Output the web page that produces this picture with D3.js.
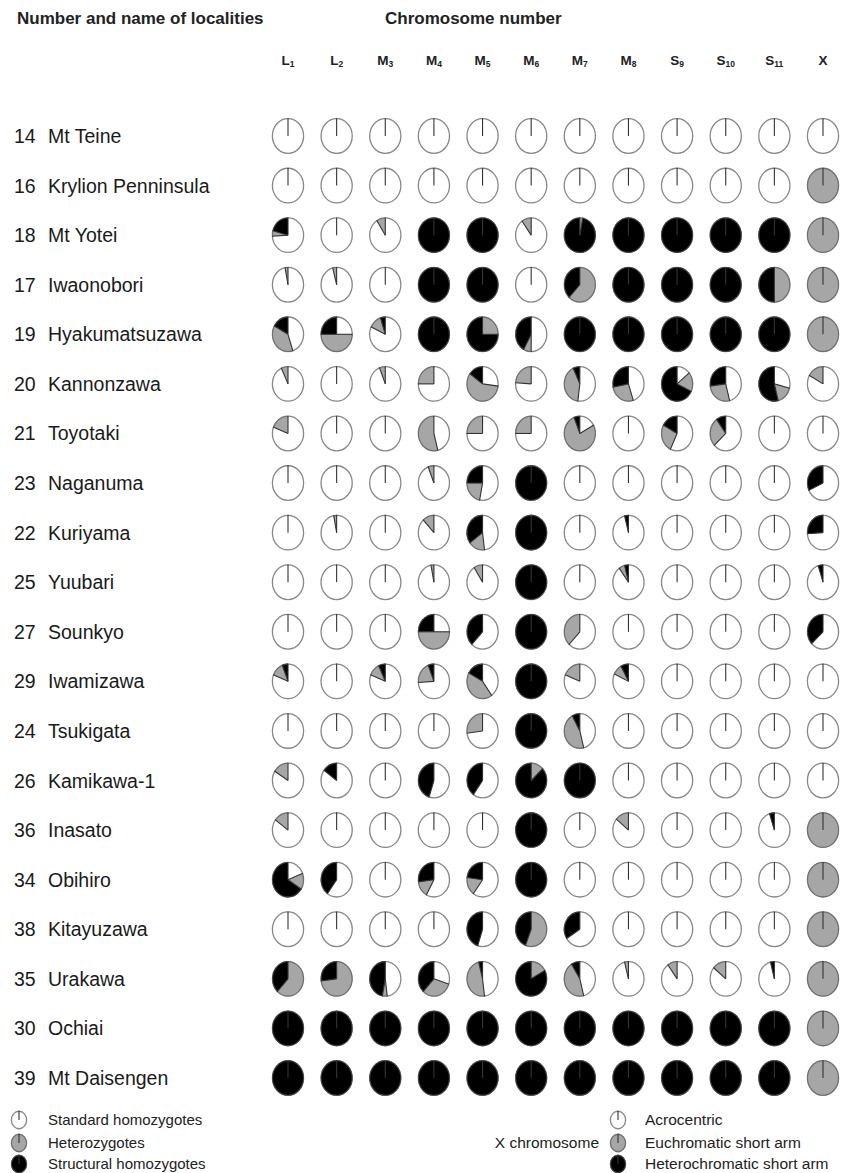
<!DOCTYPE html>
<html>
<head>
<meta charset="utf-8">
<script src="https://cdn.jsdelivr.net/npm/d3@7"></script>
<style>
  html, body { margin: 0; padding: 0; background: #fff; }
  svg { display: block; font-family: "Liberation Sans", Arial, sans-serif; }
</style>
</head>
<body>
<svg id="chart" width="843" height="1173"></svg>
<script>
// Localities (row order as listed) and chromosomes (columns)
const siteNumbers = ["14","16","18","17","19","20","21","23","22","25","27","29","24","26","36","34","38","35","30","39"];
const siteNames = ["Mt Teine","Krylion Penninsula","Mt Yotei","Iwaonobori","Hyakumatsuzawa","Kannonzawa","Toyotaki","Naganuma","Kuriyama","Yuubari","Sounkyo","Iwamizawa","Tsukigata","Kamikawa-1","Inasato","Obihiro","Kitayuzawa","Urakawa","Ochiai","Mt Daisengen"];
const chromLetters = ["L","L","M","M","M","M","M","M","S","S","S","X"];
const chromIndex = ["1","2","3","4","5","6","7","8","9","10","11",""];

// Karyotype frequencies per locality, one value per chromosome (L1 ... S11, X)
// standard homozygotes / acrocentric X
const standardFreq = [
  [1,1,1,1,1,1,1,1,1,1,1,1],
  [1,1,1,1,1,1,1,1,1,1,1,0],
  [0.74,1,0.91,0,0,0.9,0,0,0,0,0,0],
  [0.97,0.96,1,0,0,1,0,0,0,0,0,0],
  [0.45,0.25,0.82,0,0,0.5,0,0,0,0,0,0],
  [0.93,1,0.94,0.75,0.27,0.76,0.52,0.45,0.14,0.46,0.29,0.83],
  [0.81,1,1,0.46,0.75,0.75,0.17,1,0.57,0.63,1,1],
  [1,1,1,0.94,0.53,0,1,1,1,1,1,0.68],
  [1,0.97,1,0.88,0.48,0,1,0.96,1,1,1,0.74],
  [1,1,1,0.97,0.91,0,1,0.9,1,1,1,0.95],
  [1,1,1,0.25,0.62,0,0.62,1,1,1,1,0.63],
  [0.81,1,0.81,0.74,0.4,0,0.81,0.82,1,1,1,1],
  [1,1,1,1,0.73,0,0.46,1,1,1,1,1],
  [0.84,0.85,1,0.55,0.6,0,0,1,1,1,1,1],
  [0.85,1,1,1,1,0,1,0.86,1,1,0.95,0],
  [0.19,0.6,1,0.58,0.6,0,1,1,1,1,1,0],
  [1,1,1,1,0.55,0,0.66,1,1,1,1,0],
  [0,0,0.48,0.3,0.48,0,0.46,0.96,0.9,0.86,0.96,0],
  [0,0,0,0,0,0,0,0,0,0,0,0],
  [0,0,0,0,0,0,0,0,0,0,0,0]
];
// heterozygotes / euchromatic short arm X
const heteroFreq = [
  [0,0,0,0,0,0,0,0,0,0,0,0],
  [0,0,0,0,0,0,0,0,0,0,0,1],
  [0.05,0,0.09,0,0,0.1,0.03,0,0,0,0,1],
  [0.03,0.04,0,0,0,0,0.62,0,0,0,0.5,1],
  [0.38,0.5,0.13,0,0.25,0.08,0,0,0,0,0,1],
  [0.07,0,0.06,0.25,0.58,0.24,0.41,0.27,0.18,0.27,0.17,0.17],
  [0.19,0,0,0.54,0.25,0.25,0.77,0,0.26,0.27,0,0],
  [0,0,0,0.06,0.22,0,0,0,0,0,0,0],
  [0,0.03,0,0.12,0.17,0,0,0,0,0,0,0],
  [0,0,0,0.03,0.09,0,0,0.06,0,0,0,0],
  [0,0,0,0.5,0,0,0.38,0,0,0,0,0],
  [0.13,0,0.12,0.2,0.43,0,0.19,0.1,0,0,0,0],
  [0,0,0,0,0.27,0,0.46,0,0,0,0,0],
  [0.16,0,0,0,0,0.13,0,0,0,0,0,0],
  [0.15,0,0,0,0,0,0,0.14,0,0,0,1],
  [0.15,0,0,0.15,0.17,0,0,0,0,0,0,1],
  [0,0,0,0,0,0.56,0,0,0,0,0,1],
  [0.62,0.73,0.05,0.32,0.48,0.17,0.45,0.04,0.1,0.14,0,1],
  [0,0,0,0,0,0,0,0,0,0,0,1],
  [0,0,0,0,0,0,0,0,0,0,0,1]
];
// structural homozygotes / heterochromatic short arm X
const structuralFreq = [
  [0,0,0,0,0,0,0,0,0,0,0,0],
  [0,0,0,0,0,0,0,0,0,0,0,0],
  [0.21,0,0,1,1,0,0.97,1,1,1,1,0],
  [0,0,0,1,1,0,0.38,1,1,1,0.5,0],
  [0.17,0.25,0.05,1,0.75,0.42,1,1,1,1,1,0],
  [0,0,0,0,0.15,0,0.07,0.28,0.68,0.27,0.54,0],
  [0,0,0,0,0,0,0.06,0,0.17,0.1,0,0],
  [0,0,0,0,0.25,1,0,0,0,0,0,0.32],
  [0,0,0,0,0.35,1,0,0.04,0,0,0,0.26],
  [0,0,0,0,0,1,0,0.04,0,0,0,0.05],
  [0,0,0,0.25,0.38,1,0,0,0,0,0,0.37],
  [0.06,0,0.07,0.06,0.17,1,0,0.08,0,0,0,0],
  [0,0,0,0,0,1,0.08,0,0,0,0,0],
  [0,0.15,0,0.45,0.4,0.87,1,0,0,0,0,0],
  [0,0,0,0,0,1,0,0,0,0,0.05,0],
  [0.66,0.4,0,0.27,0.23,1,0,0,0,0,0,0],
  [0,0,0,0,0.45,0.44,0.34,0,0,0,0,0],
  [0.38,0.27,0.47,0.38,0.04,0.83,0.09,0,0,0,0.04,0],
  [1,1,1,1,1,1,1,1,1,1,1,0],
  [1,1,1,1,1,1,1,1,1,1,1,0]
];

const legendLeft = ["Standard homozygotes","Heterozygotes","Structural homozygotes"];
const legendRight = ["Acrocentric","Euchromatic short arm","Heterochromatic short arm"];
const classColors = ["#ffffff","#a6a6a6","#000000"];

const svg = d3.select("#chart");
svg.append("rect").attr("width",843).attr("height",1173).attr("fill","#fff");

const chromKeys = chromLetters.map((l,i) => l + chromIndex[i]);
const x = d3.scalePoint().domain(chromKeys).range([288, 823]);
const y = d3.scalePoint().domain(siteNumbers).range([136, 1078]);

const R = 16, SY = 1.11;
const pie = d3.pie().sort(null).value(d => d);
const arc = d3.arc().innerRadius(0);

function drawPie(g, vals, r, sy) {
  const inner = g.append("g").attr("transform", `scale(1,${sy})`);
  const arcs = pie(vals);
  inner.selectAll("path.slice").data(arcs.filter(a => a.value > 0)).join("path")
    .attr("class","slice")
    .attr("d", a => arc.outerRadius(r)(a))
    .attr("fill", a => classColors[a.index]);
  // outline
  inner.append("circle").attr("r", r - 0.4)
    .attr("fill","none").attr("stroke","#555").attr("stroke-opacity",0.7)
    .attr("stroke-width",1.3).attr("vector-effect","non-scaling-stroke");
  // radial boundaries: 12 o'clock and between slices
  const bounds = [0];
  let acc = 0;
  vals.forEach((v,i) => { acc += v; if (i < vals.length-1 && v > 0 && acc > 0.001 && acc < 0.999) bounds.push(acc); });
  inner.selectAll("line.b").data(bounds).join("line")
    .attr("class","b")
    .attr("x1",0).attr("y1",0)
    .attr("x2", t => r * Math.sin(t*2*Math.PI))
    .attr("y2", t => -r * Math.cos(t*2*Math.PI))
    .attr("stroke","#333").attr("stroke-width",1.1)
    .attr("vector-effect","non-scaling-stroke");
}

// Headers
svg.append("text").attr("x",17).attr("y",24).attr("font-size",17).attr("font-weight","bold")
  .attr("fill","#222").text("Number and name of localities");
svg.append("text").attr("x",385).attr("y",24).attr("font-size",17).attr("font-weight","bold")
  .attr("fill","#222").text("Chromosome number");

// Column labels with subscripts
const colLab = svg.append("g");
chromKeys.forEach((k,i) => {
  const t = colLab.append("text").attr("x", x(k)).attr("y", 65)
    .attr("text-anchor","middle").attr("font-weight","bold").attr("fill","#222");
  t.append("tspan").attr("font-size",13.5).text(chromLetters[i]);
  if (chromIndex[i]) t.append("tspan").attr("font-size",8.5).attr("dy",1.5).text(chromIndex[i]);
});

// Rows
siteNumbers.forEach((num, ri) => {
  const cy = y(num);
  svg.append("text").attr("x",14).attr("y",cy+7).attr("font-size",19.5).attr("fill","#1a1a1a").text(num);
  svg.append("text").attr("x",48).attr("y",cy+7).attr("font-size",19.5).attr("fill","#1a1a1a").text(siteNames[ri]);
  chromKeys.forEach((k, ci) => {
    const vals = [standardFreq[ri][ci], heteroFreq[ri][ci], structuralFreq[ri][ci]];
    const g = svg.append("g").attr("transform", `translate(${x(k)},${cy})`);
    drawPie(g, vals, R, SY);
  });
});

// Legend
const legY = [1120, 1143, 1164];
legendLeft.forEach((lab, i) => {
  const vals = [0,0,0]; vals[i] = 1;
  drawPie(svg.append("g").attr("transform",`translate(19,${legY[i]})`), vals, 8, 1.15);
  svg.append("text").attr("x",48).attr("y",legY[i]+5).attr("font-size",15).attr("fill","#222").text(lab);
});
legendRight.forEach((lab, i) => {
  const vals = [0,0,0]; vals[i] = 1;
  drawPie(svg.append("g").attr("transform",`translate(618,${legY[i]})`), vals, 8, 1.15);
  svg.append("text").attr("x",645).attr("y",legY[i]+5).attr("font-size",15.5).attr("fill","#222").text(lab);
});
svg.append("text").attr("x",599).attr("y",legY[1]+5).attr("text-anchor","end")
  .attr("font-size",15.5).attr("fill","#222").text("X chromosome");
</script>
</body>
</html>
